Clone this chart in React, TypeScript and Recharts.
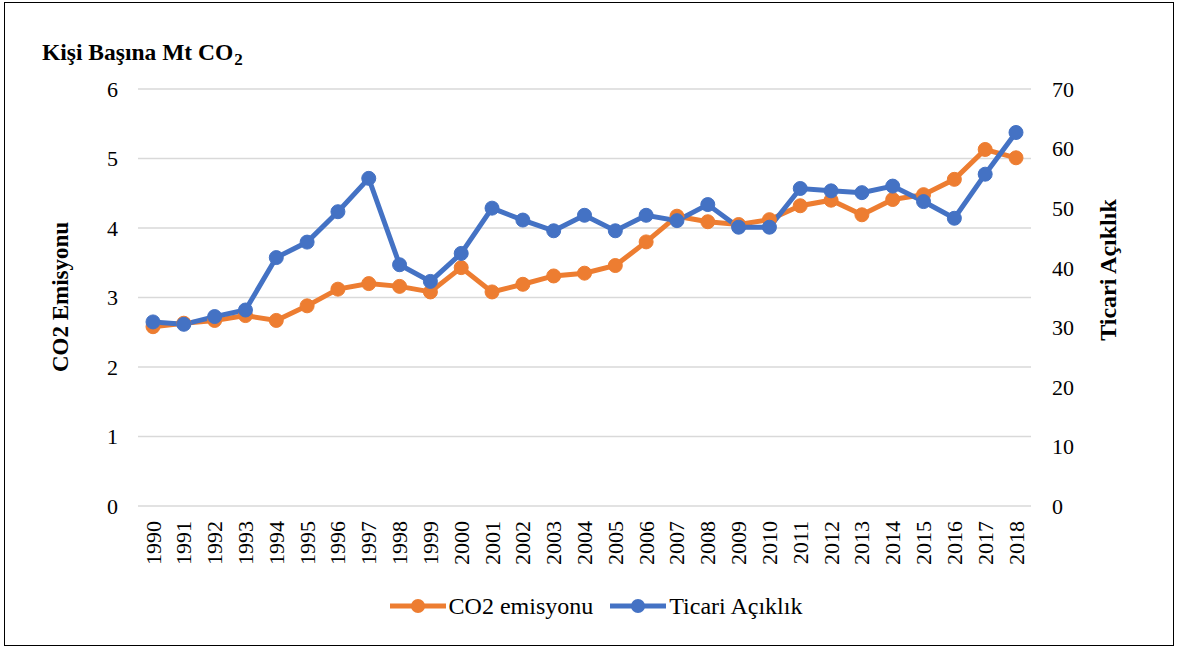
import { LineChart, Line, XAxis, YAxis, CartesianGrid } from "recharts";

const years = [
  "1990", "1991", "1992", "1993", "1994", "1995", "1996", "1997", "1998", "1999",
  "2000", "2001", "2002", "2003", "2004", "2005", "2006", "2007", "2008", "2009",
  "2010", "2011", "2012", "2013", "2014", "2015", "2016", "2017", "2018",
];

// Kişi başına CO2 emisyonu (sol eksen)
const co2 = [
  2.58, 2.63, 2.67, 2.74, 2.67, 2.88, 3.12, 3.2, 3.16, 3.08,
  3.43, 3.08, 3.19, 3.31, 3.35, 3.46, 3.8, 4.17, 4.09, 4.05,
  4.12, 4.32, 4.4, 4.19, 4.41, 4.48, 4.7, 5.13, 5.01,
];

// Ticari açıklık (sağ eksen)
const trade = [
  30.9, 30.5, 31.8, 32.9, 41.7, 44.3, 49.4, 55.0, 40.5, 37.7,
  42.4, 50.0, 48.0, 46.2, 48.8, 46.2, 48.8, 47.9, 50.6, 46.8,
  46.8, 53.3, 52.9, 52.6, 53.7, 51.1, 48.3, 55.7, 62.7,
];

const leftTicks = [0, 1, 2, 3, 4, 5, 6];
const rightTicks = [0, 10, 20, 30, 40, 50, 60, 70];

const data = years.map((y, i) => ({ year: y, co2: co2[i], trade: trade[i] }));

const ORANGE = "#ED7D31";
const BLUE = "#4472C4";
const GRID = "#D9D9D9";
const FONT = "'Liberation Serif', 'Times New Roman', serif";

function YearTick({ x, y, payload }: any) {
  return (
    <text
      x={x}
      y={y}
      transform={`rotate(-90, ${x}, ${y})`}
      textAnchor="end"
      dominantBaseline="central"
      fontSize={22}
      fill="#000"
      fontFamily={FONT}
    >
      {payload.value}
    </text>
  );
}

function LegendItem({ color, label }: { color: string; label: string }) {
  return (
    <div style={{ display: "flex", alignItems: "center", gap: 3 }}>
      <svg width={56} height={16}>
        <line x1={0} y1={8} x2={56} y2={8} stroke={color} strokeWidth={5} />
        <circle cx={28} cy={8} r={7} fill={color} />
      </svg>
      <span>{label}</span>
    </div>
  );
}

export default function App() {
  return (
    <div style={{ position: "absolute", left: 0, top: 0, width: 1178, height: 650, background: "#fff", fontFamily: FONT }}>
      <div
        style={{
          position: "absolute",
          left: 4,
          top: 2,
          width: 1170,
          height: 644,
          border: "1.5px solid #000",
          boxSizing: "border-box",
        }}
      />
      <LineChart width={1178} height={650} data={data} margin={{ top: 89, right: 0, bottom: 84, left: 0 }}>
        <CartesianGrid vertical={false} stroke={GRID} strokeWidth={1.5} yAxisId="left" />
        <XAxis
          dataKey="year"
          axisLine={false}
          tickLine={false}
          tickSize={0}
          tickMargin={15}
          interval={0}
          height={60}
          padding={{ left: 15, right: 15 }}
          tick={<YearTick />}
        />
        <YAxis
          yAxisId="left"
          orientation="left"
          domain={[0, 6]}
          ticks={leftTicks}
          width={138}
          axisLine={false}
          tickLine={false}
          tickSize={0}
          tickMargin={20}
          tick={{ fontSize: 22, fill: "#000", fontFamily: FONT }}
        />
        <YAxis
          yAxisId="right"
          orientation="right"
          domain={[0, 70]}
          ticks={rightTicks}
          width={147}
          axisLine={false}
          tickLine={false}
          tickSize={0}
          tickMargin={21}
          tick={{ fontSize: 22, fill: "#000", fontFamily: FONT, textAnchor: "start" }}
        />
        <Line
          yAxisId="left"
          type="linear"
          dataKey="co2"
          stroke={ORANGE}
          strokeWidth={5}
          dot={{ r: 7, fill: ORANGE, stroke: ORANGE, strokeWidth: 1 }}
          isAnimationActive={false}
        />
        <Line
          yAxisId="right"
          type="linear"
          dataKey="trade"
          stroke={BLUE}
          strokeWidth={5}
          dot={{ r: 7, fill: BLUE, stroke: BLUE, strokeWidth: 1 }}
          isAnimationActive={false}
        />
      </LineChart>

      {/* eksen başlıkları */}
      <div style={{ position: "absolute", left: 42, top: 38, fontSize: 23.5, fontWeight: "bold", color: "#000", whiteSpace: "nowrap", lineHeight: "28px" }}>
        Kişi Başına Mt CO<sub style={{ fontSize: 17, verticalAlign: "-5px", marginLeft: 1 }}>2</sub>
      </div>
      <svg style={{ position: "absolute", left: 0, top: 0 }} width={1178} height={650} pointerEvents="none">
        <text
          x={60}
          y={297}
          transform="rotate(-90, 60, 297)"
          textAnchor="middle"
          dominantBaseline="central"
          fontSize={23}
          fontWeight="bold"
          fontFamily={FONT}
          fill="#000"
        >
          CO2 Emisyonu
        </text>
        <text
          x={1108}
          y={270}
          transform="rotate(-90, 1108, 270)"
          textAnchor="middle"
          dominantBaseline="central"
          fontSize={24}
          fontWeight="bold"
          fontFamily={FONT}
          fill="#000"
        >
          Ticari Açıklık
        </text>
      </svg>

      {/* lejant */}
      <div
        style={{
          position: "absolute",
          left: 7,
          top: 591,
          width: 1178,
          display: "flex",
          justifyContent: "center",
          gap: 17,
          fontSize: 24,
          color: "#000",
          lineHeight: "30px",
        }}
      >
        <LegendItem color={ORANGE} label="CO2 emisyonu" />
        <LegendItem color={BLUE} label="Ticari Açıklık" />
      </div>
    </div>
  );
}
